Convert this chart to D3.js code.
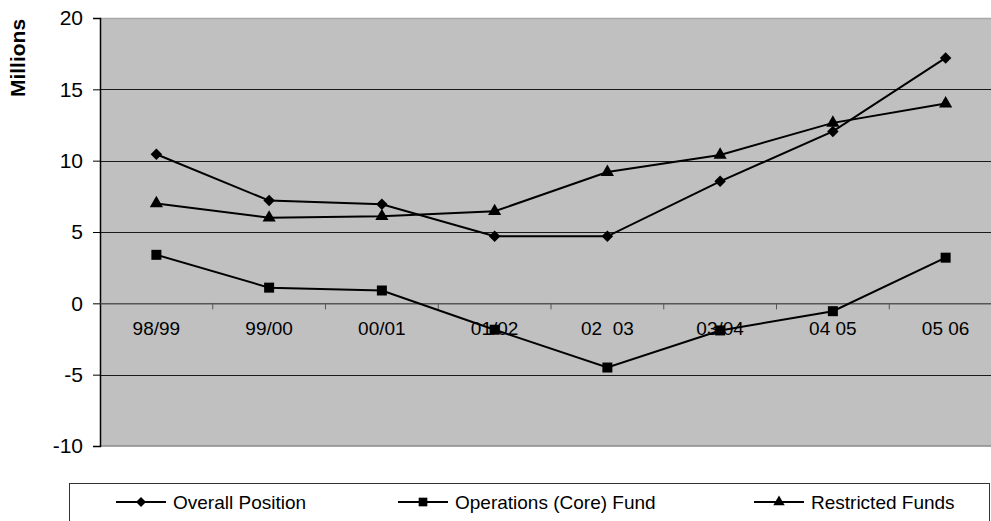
<!DOCTYPE html>
<html>
<head>
<meta charset="utf-8">
<script src="https://cdn.jsdelivr.net/npm/d3@7"></script>
<style>
  html, body { margin: 0; padding: 0; background: #fff; }
  svg { display: block; font-family: "Liberation Sans", Arial, sans-serif; }
</style>
</head>
<body>
<svg id="chart" width="991" height="521"></svg>
<script>
// Financial years on the x axis
const categories = ["98/99", "99/00", "00/01", "01/02", "02  03", "03/04", "04 05", "05 06"];
// Balances in millions
const overallPosition = [10.45, 7.2, 6.95, 4.7, 4.7, 8.55, 12.05, 17.2];
const operationsFund = [3.4, 1.1, 0.9, -1.85, -4.5, -1.9, -0.55, 3.2];
const restrictedFunds = [7.0, 6.0, 6.1, 6.45, 9.2, 10.4, 12.65, 14.0];
const yTicks = [-10, -5, 0, 5, 10, 15, 20];
const seriesNames = ["Overall Position", "Operations (Core) Fund", "Restricted Funds"];

// Marker shapes: diamond is a square turned 45 degrees
const series = [
  { name: seriesNames[0], values: overallPosition, symbol: d3.symbolSquare, size: 66, rotate: 45 },
  { name: seriesNames[1], values: operationsFund, symbol: d3.symbolSquare, size: 100, rotate: 0 },
  { name: seriesNames[2], values: restrictedFunds, symbol: d3.symbolTriangle, size: 75, rotate: 0 }
];

const svg = d3.select("#chart");
const plot = { left: 100, right: 1002, top: 18, bottom: 446 };

const x = d3.scaleBand().domain(categories).range([plot.left, plot.right]);
const y = d3.scaleLinear().domain([-10, 20]).range([plot.bottom, plot.top]);
const cx = c => x(c) + x.bandwidth() / 2;

// Plot background
svg.append("rect")
  .attr("x", plot.left).attr("y", plot.top)
  .attr("width", plot.right - plot.left).attr("height", plot.bottom - plot.top)
  .attr("fill", "#c0c0c0");
svg.append("line")
  .attr("x1", plot.left).attr("x2", plot.right)
  .attr("y1", plot.top + 0.5).attr("y2", plot.top + 0.5)
  .attr("stroke", "#a8a8a8").attr("stroke-width", 1.5);
svg.append("line")
  .attr("x1", plot.left).attr("x2", plot.right)
  .attr("y1", plot.bottom).attr("y2", plot.bottom)
  .attr("stroke", "#8a8a8a").attr("stroke-width", 1.5);

// Horizontal gridlines
svg.append("g").selectAll("line")
  .data(yTicks.filter(t => t !== 0 && t !== -10 && t !== 20))
  .join("line")
  .attr("x1", plot.left).attr("x2", plot.right)
  .attr("y1", d => Math.round(y(d)) + 0.5).attr("y2", d => Math.round(y(d)) + 0.5)
  .attr("stroke", "#1a1a1a").attr("stroke-width", 1);

// Y axis (plain hyphen for negatives)
const yAxis = d3.axisLeft(y).tickValues(yTicks).tickSize(7).tickPadding(10)
  .tickFormat(d => String(d));
const gy = svg.append("g").attr("transform", `translate(${plot.left},0)`).call(yAxis);
gy.select(".domain").attr("stroke", "#000").attr("stroke-width", 1.5);
gy.selectAll(".tick line").attr("stroke", "#000");
gy.selectAll(".tick text")
  .attr("font-size", 21).attr("fill", "#000")
  .attr("font-family", "'Liberation Sans', Arial, sans-serif");

// Zero line with category ticks
const gx = svg.append("g").attr("transform", `translate(0,${y(0)})`)
  .call(d3.axisBottom(x).tickSize(0).tickPadding(0).tickFormat(""));
gx.select(".domain").attr("stroke", "#555").attr("stroke-width", 1.5);
gx.selectAll(".tick").remove();
gx.selectAll("line.sep")
  .data(categories.slice(1))
  .join("line")
  .attr("class", "sep")
  .attr("x1", d => x(d)).attr("x2", d => x(d))
  .attr("y1", 0).attr("y2", 6)
  .attr("stroke", "#555").attr("stroke-width", 1);
gx.selectAll("text.cat")
  .data(categories)
  .join("text")
  .attr("class", "cat")
  .attr("x", d => cx(d))
  .attr("y", 25)
  .attr("dy", "0.35em")
  .attr("text-anchor", "middle")
  .attr("font-size", 19)
  .attr("fill", "#000")
  .style("white-space", "pre")
  .text(d => d);

// Axis title
svg.append("text")
  .attr("transform", "translate(25,58) rotate(-90)")
  .attr("text-anchor", "middle")
  .attr("font-size", 21)
  .attr("font-weight", "bold")
  .attr("fill", "#000")
  .text("Millions");

// Series lines and markers
const line = d3.line().x((d, i) => cx(categories[i])).y(d => y(d));
series.forEach(s => {
  svg.append("path")
    .datum(s.values)
    .attr("d", line)
    .attr("fill", "none")
    .attr("stroke", "#000")
    .attr("stroke-width", 2);
  svg.append("g").selectAll("path")
    .data(s.values)
    .join("path")
    .attr("transform", (d, i) => `translate(${cx(categories[i])},${y(d)}) rotate(${s.rotate})`)
    .attr("d", d3.symbol().type(s.symbol).size(s.size))
    .attr("fill", "#000");
});

// Legend
const legend = svg.append("g");
legend.append("rect")
  .attr("x", 69.5).attr("y", 483.5)
  .attr("width", 920).attr("height", 60)
  .attr("fill", "#fff").attr("stroke", "#333").attr("stroke-width", 1);
const legendX = [116, 398, 754];
series.forEach((s, i) => {
  const g = legend.append("g").attr("transform", `translate(${legendX[i]},502)`);
  g.append("line").attr("x1", 0).attr("x2", 50).attr("y1", 0).attr("y2", 0)
    .attr("stroke", "#000").attr("stroke-width", 2);
  g.append("path").attr("transform", `translate(25,0) rotate(${s.rotate})`)
    .attr("d", d3.symbol().type(s.symbol).size(s.size * 0.75))
    .attr("fill", "#000");
  g.append("text").attr("x", 57).attr("y", 0).attr("dy", "0.35em")
    .attr("font-size", 19).attr("fill", "#000").text(s.name);
});
</script>
</body>
</html>
